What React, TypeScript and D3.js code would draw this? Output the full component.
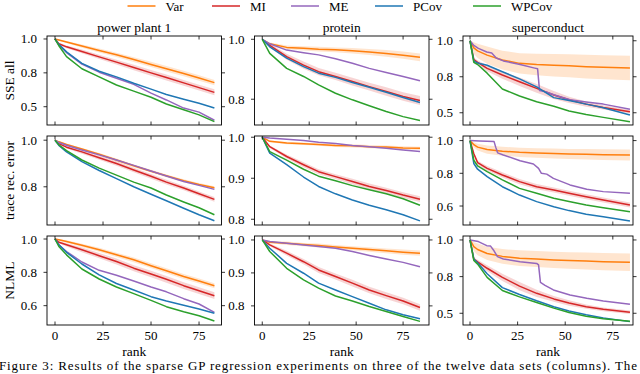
import React from 'react';
import * as d3 from 'd3';

// ---------- labels ----------
const methods = ['Var', 'MI', 'ME', 'PCov', 'WPCov'];
const colors = ['#ff7f0e', '#d62728', '#9467bd', '#1f77b4', '#2ca02c'];
const datasets = ['power plant 1', 'protein', 'superconduct'];
const metrics = ['SSE all', 'trace rec. error', 'NLML'];
const xTicks = [0, 25, 50, 75];
const caption = 'Figure 3: Results of the sparse GP regression experiments on three of the twelve data sets (columns). The';

// ---------- rank grids ----------
const rankPP = [0, 2, 6, 14, 23, 32, 41, 50, 58, 67, 75, 83];
const rankProt = [0, 4, 13, 22, 30, 39, 48, 57, 66, 75, 84];
const rankSC = [0, 2, 4, 9, 17, 26, 35, 44, 52, 61, 70, 84];

// ---------- power plant 1 ----------
const ppSSE_Var = [1.0, 0.993, 0.978, 0.948, 0.915, 0.883, 0.848, 0.812, 0.78, 0.745, 0.712, 0.678];
const ppSSE_VarBand = [0, 0.005, 0.008, 0.012, 0.014, 0.016, 0.018, 0.019, 0.02, 0.02, 0.02, 0.02];
const ppSSE_MI = [1.0, 0.965, 0.942, 0.908, 0.868, 0.829, 0.79, 0.75, 0.715, 0.676, 0.641, 0.606];
const ppSSE_MIBand = [0, 0.008, 0.01, 0.014, 0.016, 0.018, 0.02, 0.021, 0.022, 0.022, 0.022, 0.022];
const ppSSE_ME = [1.0, 0.955, 0.9, 0.815, 0.755, 0.71, 0.665, 0.6, 0.55, 0.49, 0.46, 0.4];
const ppSSE_PCov = [1.0, 0.96, 0.905, 0.82, 0.762, 0.72, 0.673, 0.63, 0.59, 0.555, 0.525, 0.49];
const ppSSE_WPCov = [1.0, 0.95, 0.87, 0.78, 0.72, 0.66, 0.615, 0.57, 0.52, 0.478, 0.44, 0.39];

const ppTR_Var = [1.0, 0.993, 0.982, 0.962, 0.94, 0.915, 0.89, 0.867, 0.847, 0.826, 0.81, 0.796];
const ppTR_VarBand = [0, 0.003, 0.004, 0.005, 0.005, 0.006, 0.006, 0.006, 0.006, 0.006, 0.006, 0.006];
const ppTR_MI = [1.0, 0.985, 0.97, 0.95, 0.925, 0.9, 0.872, 0.845, 0.82, 0.795, 0.77, 0.746];
const ppTR_MIBand = [0, 0.004, 0.006, 0.008, 0.009, 0.01, 0.01, 0.01, 0.01, 0.01, 0.01, 0.01];
const ppTR_ME = [1.0, 0.99, 0.978, 0.958, 0.937, 0.915, 0.892, 0.868, 0.846, 0.823, 0.806, 0.789];
const ppTR_PCov = [1.0, 0.978, 0.95, 0.908, 0.87, 0.835, 0.8, 0.768, 0.74, 0.708, 0.68, 0.654];
const ppTR_WPCov = [1.0, 0.98, 0.955, 0.915, 0.88, 0.85, 0.82, 0.795, 0.765, 0.735, 0.71, 0.68];

const ppNL_Var = [1.0, 0.995, 0.985, 0.962, 0.935, 0.905, 0.875, 0.84, 0.81, 0.775, 0.748, 0.72];
const ppNL_VarBand = [0, 0.005, 0.008, 0.01, 0.012, 0.013, 0.014, 0.014, 0.015, 0.015, 0.015, 0.015];
const ppNL_MI = [1.0, 0.98, 0.965, 0.935, 0.9, 0.865, 0.825, 0.79, 0.758, 0.72, 0.69, 0.66];
const ppNL_MIBand = [0, 0.006, 0.01, 0.014, 0.016, 0.018, 0.018, 0.019, 0.02, 0.02, 0.02, 0.02];
const ppNL_ME = [1.0, 0.965, 0.925, 0.862, 0.812, 0.783, 0.748, 0.712, 0.683, 0.642, 0.61, 0.56];
const ppNL_PCov = [1.0, 0.965, 0.92, 0.85, 0.785, 0.733, 0.694, 0.654, 0.628, 0.603, 0.58, 0.554];
const ppNL_WPCov = [1.0, 0.955, 0.905, 0.82, 0.76, 0.712, 0.672, 0.632, 0.594, 0.564, 0.54, 0.508];

// ---------- protein ----------
const prSSE_Var = [1.0, 0.985, 0.973, 0.97, 0.967, 0.965, 0.962, 0.958, 0.953, 0.947, 0.94];
const prSSE_VarBand = [0, 0.004, 0.006, 0.007, 0.008, 0.008, 0.009, 0.01, 0.011, 0.012, 0.013];
const prSSE_MI = [1.0, 0.98, 0.942, 0.914, 0.892, 0.876, 0.859, 0.842, 0.826, 0.809, 0.796];
const prSSE_MIBand = [0, 0.006, 0.01, 0.012, 0.012, 0.012, 0.013, 0.013, 0.014, 0.014, 0.015];
const prSSE_ME = [1.0, 0.985, 0.964, 0.955, 0.948, 0.935, 0.92, 0.903, 0.889, 0.876, 0.862];
const prSSE_PCov = [1.0, 0.975, 0.937, 0.909, 0.887, 0.873, 0.856, 0.84, 0.823, 0.806, 0.789];
const prSSE_WPCov = [1.0, 0.953, 0.903, 0.876, 0.848, 0.82, 0.798, 0.778, 0.759, 0.742, 0.729];

const prTR_Var = [1.0, 0.99, 0.986, 0.984, 0.982, 0.98, 0.979, 0.977, 0.976, 0.974, 0.973];
const prTR_VarBand = [0, 0.002, 0.003, 0.003, 0.003, 0.004, 0.004, 0.004, 0.004, 0.004, 0.004];
const prTR_MI = [1.0, 0.977, 0.953, 0.933, 0.916, 0.904, 0.892, 0.88, 0.87, 0.859, 0.849];
const prTR_MIBand = [0, 0.003, 0.005, 0.006, 0.006, 0.006, 0.007, 0.007, 0.007, 0.007, 0.007];
const prTR_ME = [1.0, 0.998, 0.995, 0.992, 0.988, 0.985, 0.98, 0.977, 0.973, 0.969, 0.965];
const prTR_PCov = [1.0, 0.961, 0.933, 0.903, 0.88, 0.862, 0.847, 0.834, 0.823, 0.811, 0.796];
const prTR_WPCov = [1.0, 0.965, 0.944, 0.922, 0.905, 0.894, 0.882, 0.872, 0.862, 0.85, 0.834];

const prNL_Var = [1.0, 0.993, 0.99, 0.986, 0.983, 0.979, 0.975, 0.971, 0.967, 0.963, 0.96];
const prNL_VarBand = [0, 0.003, 0.005, 0.005, 0.006, 0.006, 0.006, 0.007, 0.007, 0.008, 0.008];
const prNL_MI = [1.0, 0.985, 0.96, 0.934, 0.909, 0.889, 0.869, 0.848, 0.831, 0.815, 0.795];
const prNL_MIBand = [0, 0.004, 0.007, 0.008, 0.009, 0.009, 0.01, 0.01, 0.01, 0.01, 0.01];
const prNL_ME = [1.0, 0.995, 0.99, 0.985, 0.98, 0.975, 0.965, 0.953, 0.942, 0.932, 0.919];
const prNL_PCov = [1.0, 0.975, 0.929, 0.899, 0.869, 0.848, 0.828, 0.808, 0.788, 0.773, 0.761];
const prNL_WPCov = [1.0, 0.965, 0.914, 0.879, 0.854, 0.83, 0.815, 0.798, 0.783, 0.768, 0.753];

// ---------- superconduct ----------
const scSSE_Var = [1.0, 0.95, 0.93, 0.9, 0.866, 0.843, 0.835, 0.83, 0.826, 0.82, 0.816, 0.81];
const scSSE_VarBand = [0, 0.04, 0.05, 0.06, 0.065, 0.07, 0.075, 0.078, 0.08, 0.082, 0.084, 0.085];
const scSSE_MI = [1.0, 0.87, 0.85, 0.808, 0.762, 0.715, 0.669, 0.623, 0.59, 0.56, 0.537, 0.507];
const scSSE_MIBand = [0, 0.01, 0.015, 0.02, 0.025, 0.03, 0.03, 0.028, 0.022, 0.018, 0.015, 0.012];
const scSSE_MErank = [0, 1.8, 4.4, 8.8, 11.4, 13.8, 17.5, 26.3, 34, 35.5, 36.5, 40, 44, 52.5, 61, 70, 84];
const scSSE_ME = [1.0, 0.97, 0.947, 0.922, 0.915, 0.88, 0.86, 0.835, 0.81, 0.805, 0.655, 0.645, 0.625, 0.59, 0.575, 0.56, 0.525];
const scSSE_PCov = [1.0, 0.86, 0.845, 0.83, 0.785, 0.735, 0.68, 0.605, 0.585, 0.56, 0.535, 0.484];
const scSSE_WPCov = [1.0, 0.85, 0.835, 0.775, 0.665, 0.616, 0.576, 0.545, 0.512, 0.488, 0.468, 0.438];

const scTR_Var = [1.0, 0.975, 0.96, 0.945, 0.935, 0.928, 0.924, 0.921, 0.918, 0.916, 0.914, 0.912];
const scTR_VarBand = [0, 0.015, 0.02, 0.025, 0.027, 0.028, 0.029, 0.03, 0.031, 0.032, 0.033, 0.033];
const scTR_MI = [1.0, 0.92, 0.865, 0.83, 0.79, 0.749, 0.718, 0.698, 0.678, 0.657, 0.637, 0.606];
const scTR_MIBand = [0, 0.008, 0.012, 0.015, 0.016, 0.016, 0.016, 0.015, 0.015, 0.015, 0.015, 0.015];
const scTR_MErank = [0, 5, 12.6, 13.5, 14.5, 17.5, 26.3, 33.3, 36, 37.5, 40.3, 43.8, 52.5, 61.3, 70, 84];
const scTR_ME = [1.0, 0.998, 0.995, 0.96, 0.925, 0.912, 0.877, 0.857, 0.83, 0.8, 0.795, 0.769, 0.729, 0.702, 0.688, 0.678];
const scTR_PCov = [1.0, 0.86, 0.825, 0.78, 0.718, 0.667, 0.627, 0.596, 0.572, 0.55, 0.535, 0.508];
const scTR_WPCov = [1.0, 0.88, 0.845, 0.81, 0.76, 0.708, 0.678, 0.647, 0.627, 0.606, 0.59, 0.565];

const scNL_Var = [1.0, 0.955, 0.935, 0.908, 0.888, 0.876, 0.87, 0.864, 0.86, 0.856, 0.852, 0.848];
const scNL_VarBand = [0, 0.03, 0.04, 0.045, 0.05, 0.053, 0.055, 0.056, 0.057, 0.058, 0.059, 0.06];
const scNL_MI = [1.0, 0.87, 0.85, 0.807, 0.745, 0.685, 0.636, 0.598, 0.57, 0.545, 0.527, 0.507];
const scNL_MIBand = [0, 0.01, 0.015, 0.02, 0.025, 0.028, 0.025, 0.02, 0.018, 0.015, 0.013, 0.012];
const scNL_MErank = [0, 4.4, 8.8, 10.8, 12.3, 14.4, 17.5, 26.3, 35, 36, 37, 39.4, 43.8, 52.5, 61.3, 70, 84];
const scNL_ME = [1.0, 0.989, 0.961, 0.958, 0.932, 0.886, 0.87, 0.852, 0.84, 0.83, 0.71, 0.69, 0.659, 0.625, 0.602, 0.584, 0.561];
const scNL_PCov = [1.0, 0.87, 0.845, 0.77, 0.675, 0.628, 0.585, 0.545, 0.515, 0.49, 0.468, 0.443];
const scNL_WPCov = [1.0, 0.86, 0.835, 0.745, 0.655, 0.612, 0.574, 0.535, 0.505, 0.48, 0.462, 0.445];

// ---------- axes ----------
const xDomains = [[-4.17, 86.7], [-4.13, 88.8], [-3.68, 85.6]];
const yDomains = [
  [[0.365, 1.022], [0.714, 1.011], [0.415, 1.033]],
  [[0.636, 1.018], [0.786, 1.003], [0.484, 1.028]],
  [[0.484, 1.018], [0.742, 1.012], [0.42, 1.027]],
];
const yTickVals = [
  [[0.5, 0.75, 1.0], [0.8, 1.0], [0.5, 0.75, 1.0]],
  [[0.8, 1.0], [0.8, 0.9, 1.0], [0.6, 0.8, 1.0]],
  [[0.6, 0.8, 1.0], [0.8, 0.9, 1.0], [0.5, 0.75, 1.0]],
];

type S = { x: number[]; y: number[]; band?: number[] };
const mk = (x: number[], y: number[], band?: number[]): S => ({ x, y, band });

const grid: S[][][] = [
  [
    [mk(rankPP, ppSSE_Var, ppSSE_VarBand), mk(rankPP, ppSSE_MI, ppSSE_MIBand), mk(rankPP, ppSSE_ME), mk(rankPP, ppSSE_PCov), mk(rankPP, ppSSE_WPCov)],
    [mk(rankProt, prSSE_Var, prSSE_VarBand), mk(rankProt, prSSE_MI, prSSE_MIBand), mk(rankProt, prSSE_ME), mk(rankProt, prSSE_PCov), mk(rankProt, prSSE_WPCov)],
    [mk(rankSC, scSSE_Var, scSSE_VarBand), mk(rankSC, scSSE_MI, scSSE_MIBand), mk(scSSE_MErank, scSSE_ME), mk(rankSC, scSSE_PCov), mk(rankSC, scSSE_WPCov)],
  ],
  [
    [mk(rankPP, ppTR_Var, ppTR_VarBand), mk(rankPP, ppTR_MI, ppTR_MIBand), mk(rankPP, ppTR_ME), mk(rankPP, ppTR_PCov), mk(rankPP, ppTR_WPCov)],
    [mk(rankProt, prTR_Var, prTR_VarBand), mk(rankProt, prTR_MI, prTR_MIBand), mk(rankProt, prTR_ME), mk(rankProt, prTR_PCov), mk(rankProt, prTR_WPCov)],
    [mk(rankSC, scTR_Var, scTR_VarBand), mk(rankSC, scTR_MI, scTR_MIBand), mk(scTR_MErank, scTR_ME), mk(rankSC, scTR_PCov), mk(rankSC, scTR_WPCov)],
  ],
  [
    [mk(rankPP, ppNL_Var, ppNL_VarBand), mk(rankPP, ppNL_MI, ppNL_MIBand), mk(rankPP, ppNL_ME), mk(rankPP, ppNL_PCov), mk(rankPP, ppNL_WPCov)],
    [mk(rankProt, prNL_Var, prNL_VarBand), mk(rankProt, prNL_MI, prNL_MIBand), mk(rankProt, prNL_ME), mk(rankProt, prNL_PCov), mk(rankProt, prNL_WPCov)],
    [mk(rankSC, scNL_Var, scNL_VarBand), mk(rankSC, scNL_MI, scNL_MIBand), mk(scNL_MErank, scNL_ME), mk(rankSC, scNL_PCov), mk(rankSC, scNL_WPCov)],
  ],
];

// ---------- layout ----------
const W = 640, H = 374;
const colX = [[47, 221.5], [254.5, 429], [463, 633]];
const rowY = [[36, 125], [136, 225], [236, 325]];
const FONT: React.CSSProperties = { fontFamily: 'Liberation Serif, DejaVu Serif, Times New Roman, serif' };
const legendX = [127.5, 212, 291, 375, 473];

function Panel({ r, c }: { r: number; c: number }) {
  const [x0, x1] = colX[c];
  const [y0, y1] = rowY[r];
  const xs = d3.scaleLinear().domain(xDomains[c]).range([x0, x1]);
  const ys = d3.scaleLinear().domain(yDomains[r][c]).range([y1, y0]);
  const line = d3.line<[number, number]>().x(d => xs(d[0])).y(d => ys(d[1]));
  const area = d3.area<[number, number, number]>().x(d => xs(d[0])).y0(d => ys(d[1] - d[2])).y1(d => ys(d[1] + d[2]));
  const series = grid[r][c];
  const clipId = `clip-${r}-${c}`;
  const fmt = (v: number) => v.toFixed(1);
  const tl = 3.5;
  return (
    <g>
      <defs>
        <clipPath id={clipId}>
          <rect x={x0} y={y0} width={x1 - x0} height={y1 - y0} />
        </clipPath>
      </defs>
      <g clipPath={`url(#${clipId})`}>
        {series.map((s, i) =>
          s.band ? (
            <path key={'b' + i} d={area(s.x.map((x, k) => [x, s.y[k], s.band![k]]) as any) || ''}
              fill={colors[i]} fillOpacity={0.2} stroke="none" />
          ) : null
        )}
        {series.map((s, i) => (
          <path key={'l' + i} d={line(s.x.map((x, k) => [x, s.y[k]]) as any) || ''}
            fill="none" stroke={colors[i]} strokeWidth={1.5} strokeLinejoin="round" />
        ))}
      </g>
      <rect x={x0} y={y0} width={x1 - x0} height={y1 - y0} fill="none" stroke="#000" strokeWidth={0.9} />
      {xTicks.map(t => (
        <g key={'xt' + t}>
          <line x1={xs(t)} x2={xs(t)} y1={y1} y2={y1 - tl} stroke="#000" strokeWidth={0.8} />
          <line x1={xs(t)} x2={xs(t)} y1={y0} y2={y0 + tl} stroke="#000" strokeWidth={0.8} />
          {r === 2 ? (
            <text x={xs(t)} y={y1 + 15} textAnchor="middle" fontSize={13} style={FONT}>{t}</text>
          ) : null}
        </g>
      ))}
      {yTickVals[r][c].map(t => (
        <g key={'yt' + t}>
          <line x1={x0} x2={x0 - tl} y1={ys(t)} y2={ys(t)} stroke="#000" strokeWidth={0.8} />
          <line x1={x1} x2={x1 + tl} y1={ys(t)} y2={ys(t)} stroke="#000" strokeWidth={0.8} />
          <text x={x0 - 10} y={ys(t) + 4.5} textAnchor="end" fontSize={13} style={FONT}>{fmt(t)}</text>
        </g>
      ))}
      {r === 0 ? (
        <text x={(x0 + x1) / 2} y={y0 - 4} textAnchor="middle" fontSize={13.5} style={FONT}>{datasets[c]}</text>
      ) : null}
      {r === 2 ? (
        <text x={(x0 + x1) / 2} y={y1 + 31} textAnchor="middle" fontSize={13.5} style={FONT}>rank</text>
      ) : null}
      {c === 0 ? (
        <text transform={`translate(14,${(y0 + y1) / 2}) rotate(-90)`} textAnchor="middle" fontSize={13.5} style={FONT}>{metrics[r]}</text>
      ) : null}
    </g>
  );
}

export default function App() {
  return (
    <svg width={W} height={H} style={{ position: 'absolute', left: 0, top: 0, background: '#fff' }}>
      <rect x={0} y={0} width={W} height={H} fill="#fff" />
      {methods.map((m, i) => (
        <g key={m}>
          <line x1={legendX[i]} x2={legendX[i] + 28} y1={6} y2={6} stroke={colors[i]} strokeWidth={1.5} />
          <text x={legendX[i] + 38} y={10.5} fontSize={13} style={FONT}>{m}</text>
        </g>
      ))}
      {[0, 1, 2].map(r => [0, 1, 2].map(c => <Panel key={`${r}-${c}`} r={r} c={c} />))}
      <text x={-1} y={370} fontSize={13} style={FONT} textLength={638} lengthAdjust="spacing">{caption}</text>
    </svg>
  );
}
